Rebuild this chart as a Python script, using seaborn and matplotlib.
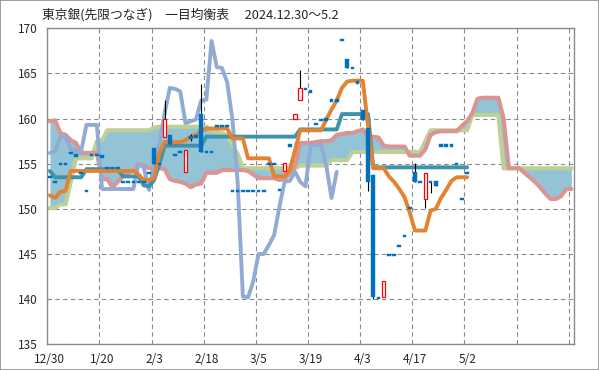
import numpy as np
import matplotlib
matplotlib.use("Agg")
import matplotlib.pyplot as plt
from matplotlib.patches import Rectangle
import seaborn as sns

sns.set_style("white")
plt.rcParams['font.family'] = ['Noto Sans CJK JP', 'DejaVu Sans']

# x tick labels (every 10 trading days)
date_labels = ["12/30", "1/20", "2/3", "2/18", "3/5", "3/19", "4/3", "4/17", "5/2"]

# candles 12/30 .. 5/2 (81 days)
candle_open = [153.5, 153.0, 155.0, 155.0, 156.2, 155.9, 154.0, 152.0, 156.0, 156.0,
               155.8, 154.5, 154.5, 154.5, 153.0, 153.0, 153.0, 153.0, 153.0, 154.0,
               156.7, 155.0, 158.0, 158.2, 156.0, 156.3, 154.1, 157.9, 158.0, 160.5,
               156.3, 156.3, 159.2, 159.2, 159.2, 152.0, 152.0, 152.0, 152.0, 152.0,
               152.0, 152.0, 155.0, 155.0, 152.1, 154.2, 157.0, 160.0, 162.1, 163.3,
               163.0, 159.4, 159.8, 159.9, 162.0, 162.0, 168.7, 166.6, 165.6, 164.0,
               161.0, 159.0, 153.7, 140.1, 140.2, 144.9, 144.9, 145.9, 147.0, 150.1,
               154.1, 153.0, 151.1, 153.0, 153.1, 157.0, 157.0, 157.0, 155.0, 151.1,
               154.0]
candle_close = [153.5, 153.0, 155.0, 155.0, 156.2, 155.9, 154.0, 152.0, 156.0, 156.0,
                155.8, 154.5, 154.5, 154.5, 153.0, 153.0, 153.0, 153.0, 153.0, 154.0,
                155.0, 155.0, 160.0, 157.2, 156.0, 156.3, 156.5, 157.9, 158.0, 156.3,
                156.3, 156.3, 159.2, 159.2, 159.2, 152.0, 152.0, 152.0, 152.0, 152.0,
                152.0, 152.0, 155.0, 155.0, 152.1, 155.1, 157.0, 160.5, 163.4, 163.3,
                163.0, 159.4, 159.8, 159.9, 162.0, 162.0, 168.7, 165.6, 165.6, 164.0,
                159.8, 153.0, 140.2, 140.1, 142.0, 144.9, 144.9, 145.9, 147.0, 150.1,
                153.0, 153.0, 154.0, 153.0, 152.5, 157.0, 157.0, 157.0, 155.0, 151.1,
                154.0]
candle_high = [153.5, 153.0, 155.0, 155.0, 156.2, 155.9, 154.0, 152.0, 156.0, 156.0,
               155.8, 154.5, 154.5, 154.5, 153.0, 153.0, 153.0, 153.0, 153.0, 154.0,
               156.7, 155.0, 162.1, 158.2, 156.0, 156.3, 156.5, 158.3, 158.0, 163.8,
               156.3, 156.3, 159.2, 159.2, 159.2, 152.0, 152.0, 152.0, 152.0, 152.0,
               152.0, 152.0, 155.0, 155.0, 152.1, 155.1, 157.0, 160.5, 165.4, 163.3,
               163.0, 159.4, 159.8, 159.9, 162.0, 162.0, 168.7, 166.6, 165.6, 164.0,
               161.0, 159.0, 153.7, 140.1, 142.0, 144.9, 144.9, 145.9, 147.0, 150.1,
               155.05, 153.0, 154.0, 153.0, 153.1, 157.0, 157.0, 157.0, 155.0, 151.1,
               154.0]
candle_low = [153.5, 153.0, 155.0, 155.0, 156.2, 155.9, 154.0, 152.0, 156.0, 156.0,
              155.8, 154.5, 154.5, 154.5, 153.0, 153.0, 153.0, 153.0, 153.0, 154.0,
              155.0, 155.0, 158.0, 157.2, 156.0, 156.3, 154.1, 157.5, 158.0, 156.3,
              156.3, 156.3, 159.2, 159.2, 159.2, 152.0, 152.0, 152.0, 152.0, 152.0,
              152.0, 152.0, 155.0, 155.0, 152.1, 154.2, 157.0, 160.0, 162.1, 163.3,
              163.0, 159.4, 159.8, 159.9, 162.0, 162.0, 168.7, 165.6, 165.6, 164.0,
              159.8, 152.0, 140.0, 140.1, 140.2, 144.9, 144.9, 145.9, 147.0, 150.1,
              153.0, 153.0, 150.1, 151.8, 152.5, 157.0, 157.0, 157.0, 155.0, 151.1,
              154.0]

# 転換線
tenkan = [151.5, 151.2, 151.9, 152.0] + [154.2] * 13 + [153.8, 153.2, 153.2, 153.4, 156.2] \
    + [157.4] * 4 + [157.6, 158.0, 158.2, 158.6] + [158.9] * 5 + [157.8] * 3 + [155.6] * 5 \
    + [153.6] * 3 + [154.3, 156.5] + [158.7] * 5 + [159.9, 161.0, 162.0, 163.4, 164.1] \
    + [164.2] * 3 + [159.2] + [154.5] * 3 + [153.6, 153.0, 152.2, 151.3, 149.6] \
    + [147.6] * 3 + [149.8, 150.0, 151.2, 152.1, 153.1] + [153.5] * 3

# 基準線
kijun = [154.2] + [153.5] * 6 + [154.4] * 7 + [153.6] * 4 + [152.6, 152.5, 153.2, 155.0] \
    + [157.0] * 8 + [158.0] * 18 + [158.8] * 8 + [160.5] * 6 + [154.6] * 19

# 遅行スパン
chikou = [156.2, 156.4, 158.0, 158.0, 156.6, 156.4, 156.4, 159.3, 159.3, 159.3,
          152.2, 152.2, 152.2, 152.2, 152.2, 152.2, 152.2, 155.0, 154.6, 152.1,
          155.0, 157.2, 160.6, 163.4, 163.3, 163.0, 159.5, 159.7, 159.9, 162.0,
          162.1, 168.6, 165.7, 165.6, 164.0, 159.9, 153.0, 140.3, 140.2, 142.0,
          145.0, 145.0, 146.0, 147.1, 150.2, 153.0, 153.1, 154.1, 153.0, 152.5,
          157.0, 157.1, 157.1, 154.8, 151.2, 154.1]

# 先行スパン1
senkou_a = [159.7, 159.8, 158.4, 158.2, 157.6, 157.3, 156.2, 156.2, 156.2, 156.2,
            153.3, 153.3, 152.4, 153.0, 153.6, 154.0, 154.2, 155.0, 154.8, 154.5,
            154.5, 154.5, 154.4, 153.3, 153.1, 153.0, 152.8, 152.4, 152.7, 152.8,
            154.0, 154.0, 154.0, 154.3, 154.3, 154.3, 154.3, 154.3, 154.2, 153.8,
            153.4, 153.4, 153.4, 153.4, 153.2, 153.3, 153.9, 154.7, 157.3, 157.3,
            157.3, 157.4, 157.5, 157.5, 157.6, 158.2, 158.3, 158.4, 158.4, 158.6,
            158.8, 158.0, 158.0, 157.9, 157.0, 156.9, 156.9, 156.9, 156.9, 155.9,
            155.9, 155.9, 156.6, 158.2, 158.5, 158.6, 158.6, 158.6, 158.6, 159.2,
            159.7, 160.6, 162.2, 162.3, 162.3, 162.3, 162.3, 160.0, 154.5, 154.5,
            154.5, 154.0, 153.5, 153.0, 152.4, 151.7, 151.1, 151.1, 151.4, 152.2,
            152.2]

# 先行スパン2
senkou_b = [150.1, 150.1, 150.5, 150.5, 153.0] + [155.6] * 4 + [157.5, 157.6] \
    + [158.7] * 9 + [159.0] + [159.1] * 10 + [158.6, 158.5, 158.4, 158.2, 157.0, 156.1] \
    + [154.5] * 11 + [154.8] * 6 + [155.4] * 4 + [156.3] * 14 + [157.5] \
    + [158.7] * 8 + [160.4] * 6 + [154.5] * 14

fig = plt.figure(figsize=(5.99, 3.70), dpi=100)
fig.patches.append(Rectangle((0, 0), 1, 1, transform=fig.transFigure, fill=False,
                             edgecolor='#8c8c8c', lw=1.2))
ax = fig.add_axes([47.3 / 599, 1 - 344.3 / 370, (574 - 47.3) / 599, 316 / 370])

xa = np.arange(len(senkou_a)) + 0.5
ax.fill_between(xa, senkou_a, senkou_b, color='#93c4d6', lw=0, zorder=1)
sns.lineplot(x=xa, y=senkou_b, ax=ax, color='#bdd197', lw=3.0, zorder=2,
             solid_joinstyle='round')
sns.lineplot(x=xa, y=senkou_a, ax=ax, color='#d99593', lw=3.0, zorder=2.1,
             solid_joinstyle='round')
sns.lineplot(x=np.arange(len(chikou)) + 0.5, y=chikou, ax=ax, color='#92abd4', lw=2.8,
             zorder=3, solid_joinstyle='round')
xk = np.arange(len(kijun)) + 0.5
sns.lineplot(x=xk, y=kijun, ax=ax, color='#3c93ab', lw=2.8, zorder=4,
             solid_joinstyle='round')
sns.lineplot(x=np.arange(len(tenkan)) + 0.5, y=tenkan, ax=ax, color='#e3822f', lw=2.8,
             zorder=5, solid_joinstyle='round')

# candlesticks
o = np.array(candle_open)
c = np.array(candle_close)
xc = np.arange(len(o)) + 0.5
ax.vlines(xc, candle_low, candle_high, color='black', lw=0.8, zorder=6)
up = c > o
body = np.maximum(np.abs(c - o), 0.25)
bottom = np.where(np.abs(c - o) < 0.25, np.minimum(o, c) - 0.12, np.minimum(o, c))
ax.bar(xc[up], body[up], bottom=bottom[up], width=0.7, color='white',
       edgecolor='#ff0000', lw=0.9, zorder=7)
ax.bar(xc[~up], body[~up], bottom=bottom[~up], width=0.7, color='#0070c0',
       edgecolor='#0070c0', lw=0.3, zorder=7)

ax.set_xlim(0, 101)
ax.set_ylim(135, 170)
ax.set_yticks(np.arange(135, 171, 5))
ax.set_xticks(np.arange(0, 101, 10))
ax.set_xticklabels([])
ax.set_xticks(np.arange(len(date_labels)) * 10 + 0.5, minor=True)
ax.set_xticklabels(date_labels, minor=True)
ax.tick_params(axis='x', which='major', length=4, color='#888888', direction='out')
ax.tick_params(axis='x', which='minor', length=0, pad=6, labelsize=8.5)
ax.tick_params(axis='y', length=4, color='#888888', direction='out', pad=3,
               labelsize=8.5)
ax.grid(True, axis='both', which='major', color='#8a8a8a', lw=0.8,
        linestyle=(0, (4, 3)))
ax.set_axisbelow(True)
for s in ax.spines.values():
    s.set_color('#8a8a8a')
    s.set_linewidth(1.0)

fig.text(42 / 599, 1 - 15 / 370, "東京銀(先限つなぎ)　一目均衡表　 2024.12.30～5.2",
         fontsize=9.2, va='center', ha='left')

fig.savefig("out.png", dpi=100)
